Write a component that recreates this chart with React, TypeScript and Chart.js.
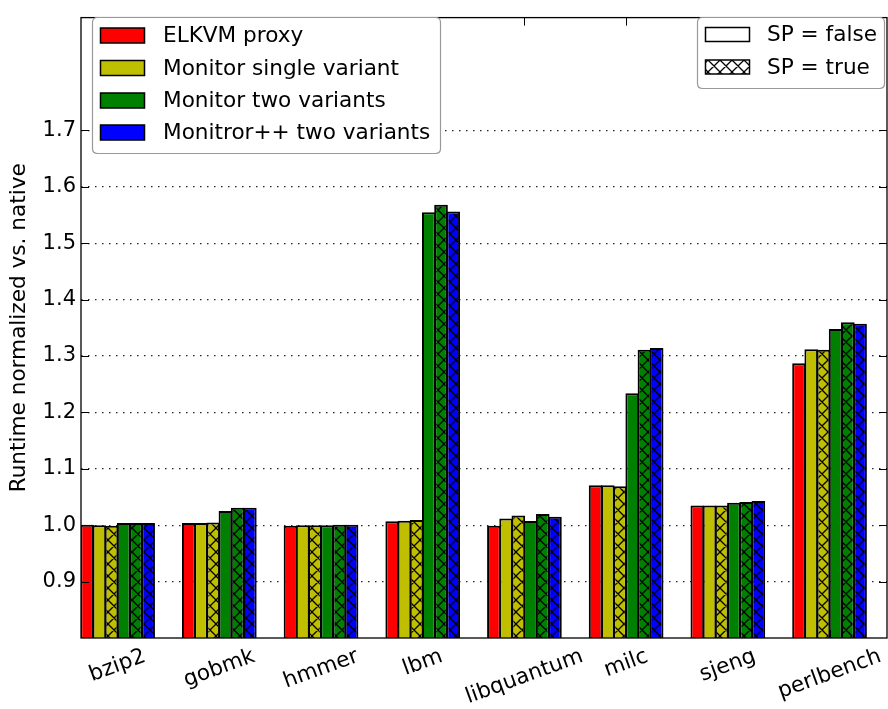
import React, { useEffect, useRef } from 'react';
import { Chart, registerables } from 'chart.js';

Chart.register(...registerables);

// ---------- data ----------
const categories = ['bzip2', 'gobmk', 'hmmer', 'lbm', 'libquantum', 'milc', 'sjeng', 'perlbench'];
const elkvmProxy = [1.001, 1.004, 0.999, 1.007, 0.999, 1.071, 1.035, 1.287];
const monitorSingle = [1.0, 1.004, 1.0, 1.008, 1.012, 1.071, 1.035, 1.312];
const monitorSingleSP = [0.999, 1.005, 1.0, 1.009, 1.017, 1.069, 1.035, 1.311];
const monitorTwo = [1.004, 1.025, 1.0, 1.555, 1.0075, 1.234, 1.04, 1.348];
const monitorTwoSP = [1.004, 1.031, 1.001, 1.568, 1.02, 1.311, 1.041, 1.36];
const monitorPPTwoSP = [1.004, 1.031, 1.001, 1.556, 1.015, 1.314, 1.043, 1.357];

const seriesNames = ['ELKVM proxy', 'Monitor single variant', 'Monitor two variants', 'Monitror++ two variants'];
const seriesColors = ['#ff0000', '#bfbf00', '#008000', '#0000ff'];
const spLabels = ['SP = false', 'SP = true'];
const yTickLabels = ['0.9', '1.0', '1.1', '1.2', '1.3', '1.4', '1.5', '1.6', '1.7'];
const yAxisTitle = 'Runtime normalized vs. native';

const FAMILY = '"DejaVu Sans", sans-serif';
const FS = 21;
const FS_LEG = 21.6;

function makeHatch(color: string): CanvasPattern | string {
  const s = 12;
  const c = document.createElement('canvas');
  c.width = s;
  c.height = s;
  const g = c.getContext('2d');
  if (!g) return color;
  g.fillStyle = color;
  g.fillRect(0, 0, s, s);
  g.strokeStyle = '#000';
  g.lineWidth = 1.3;
  g.beginPath();
  for (const o of [-s, 0, s]) {
    g.moveTo(o - 1, -1);
    g.lineTo(o + s + 1, s + 1);
    g.moveTo(o - 1, s + 1);
    g.lineTo(o + s + 1, -1);
  }
  g.stroke();
  return g.createPattern(c, 'repeat') || color;
}

const toPts = (arr: number[]) => arr.map((v, i) => ({ x: i, y: v }));

const decorPlugin = {
  id: 'decor',
  afterDraw(chart: any) {
    const { ctx, chartArea } = chart;
    const xs = chart.scales.x;
    const ys = chart.scales.y;
    const { left, right, top, bottom } = chartArea;
    ctx.save();
    // frame
    ctx.strokeStyle = '#000';
    ctx.lineWidth = 1.3;
    ctx.strokeRect(left, top, right - left, bottom - top);
    // ticks
    ctx.lineWidth = 1;
    ctx.beginPath();
    yTickLabels.forEach((t) => {
      const y = Math.round(ys.getPixelForValue(parseFloat(t))) + 0.5;
      ctx.moveTo(left, y);
      ctx.lineTo(left + 8, y);
      ctx.moveTo(right, y);
      ctx.lineTo(right - 8, y);
    });
    categories.forEach((_, i) => {
      const x = Math.round(xs.getPixelForValue(i)) + 0.5;
      ctx.moveTo(x, top);
      ctx.lineTo(x, top + 8);
      ctx.moveTo(x, bottom);
      ctx.lineTo(x, bottom - 8);
    });
    ctx.stroke();

    // x labels (rotated, centered)
    ctx.font = `${FS_LEG}px ${FAMILY}`;
    ctx.fillStyle = '#000';
    ctx.textAlign = 'center';
    ctx.textBaseline = 'middle';
    const ang = (20 * Math.PI) / 180;
    categories.forEach((lab, i) => {
      const x = xs.getPixelForValue(i);
      const w = ctx.measureText(lab).width;
      const cy = bottom + 8 + (w * Math.sin(ang) + FS * Math.cos(ang)) / 2;
      ctx.save();
      ctx.translate(x, cy);
      ctx.rotate(-ang);
      ctx.fillText(lab, 0, 0);
      ctx.restore();
    });

    // legend boxes
    const roundRect = (x: number, y: number, w: number, h: number, r: number) => {
      ctx.beginPath();
      ctx.moveTo(x + r, y);
      ctx.lineTo(x + w - r, y);
      ctx.quadraticCurveTo(x + w, y, x + w, y + r);
      ctx.lineTo(x + w, y + h - r);
      ctx.quadraticCurveTo(x + w, y + h, x + w - r, y + h);
      ctx.lineTo(x + r, y + h);
      ctx.quadraticCurveTo(x, y + h, x, y + h - r);
      ctx.lineTo(x, y + r);
      ctx.quadraticCurveTo(x, y, x + r, y);
      ctx.closePath();
    };
    ctx.textAlign = 'left';
    // left legend
    roundRect(92.5, 17.5, 348, 136, 5);
    ctx.fillStyle = '#fff';
    ctx.fill();
    ctx.strokeStyle = '#999';
    ctx.lineWidth = 1.2;
    ctx.stroke();
    const rowsL = [35.5, 68, 100.5, 132.5];
    seriesNames.forEach((name, i) => {
      const cy = rowsL[i];
      ctx.fillStyle = seriesColors[i];
      ctx.fillRect(100.5, cy - 7.5, 44, 15);
      ctx.strokeStyle = '#000';
      ctx.lineWidth = 1.5;
      ctx.strokeRect(100.5, cy - 7.5, 44, 15);
      ctx.fillStyle = '#000';
      ctx.fillText(name, 163, cy + 1);
    });
    // right legend
    roundRect(697.5, 17.5, 187, 71, 5);
    ctx.fillStyle = '#fff';
    ctx.fill();
    ctx.strokeStyle = '#999';
    ctx.lineWidth = 1.2;
    ctx.stroke();
    const rowsR = [34.5, 67];
    const spFills = ['#ffffff', makeHatch('#ffffff')];
    spLabels.forEach((name, i) => {
      const cy = rowsR[i];
      ctx.fillStyle = spFills[i] as any;
      ctx.fillRect(705.5, cy - 7, 44, 14);
      ctx.strokeStyle = '#000';
      ctx.lineWidth = 1.5;
      ctx.strokeRect(705.5, cy - 7, 44, 14);
      ctx.fillStyle = '#000';
      ctx.fillText(name, 767, cy + 1);
    });
    ctx.restore();
  },
};

export default function App() {
  const ref = useRef<HTMLCanvasElement>(null);

  useEffect(() => {
    if (!ref.current) return;
    const common = {
      borderColor: '#000',
      borderWidth: 2,
      borderSkipped: false,
      categoryPercentage: 0.72,
      barPercentage: 1.12,
    };
    const datasets: any[] = [
      { label: seriesNames[0], data: toPts(elkvmProxy), backgroundColor: seriesColors[0], ...common },
      { label: seriesNames[1], data: toPts(monitorSingle), backgroundColor: seriesColors[1], ...common },
      { label: seriesNames[1] + ' (SP)', data: toPts(monitorSingleSP), backgroundColor: makeHatch(seriesColors[1]), ...common },
      { label: seriesNames[2], data: toPts(monitorTwo), backgroundColor: seriesColors[2], ...common },
      { label: seriesNames[2] + ' (SP)', data: toPts(monitorTwoSP), backgroundColor: makeHatch(seriesColors[2]), ...common },
      { label: seriesNames[3] + ' (SP)', data: toPts(monitorPPTwoSP), backgroundColor: makeHatch(seriesColors[3]), ...common },
    ];

    const chart = new Chart(ref.current, {
      type: 'bar',
      data: { datasets },
      options: {
        responsive: false,
        animation: false,
        devicePixelRatio: 1,
        layout: { padding: { top: 6, left: 0, right: 1, bottom: 0 } },
        plugins: {
          legend: { display: false },
          tooltip: { enabled: false },
        },
        scales: {
          x: {
            type: 'linear',
            offset: false,
            min: -0.36,
            max: 7.565,
            ticks: { display: false, stepSize: 1, includeBounds: false },
            grid: { display: false, offset: false },
            border: { display: false },
            afterFit: (s: any) => {
              s.height = 71;
            },
          },
          y: {
            type: 'linear',
            min: 0.8,
            max: 1.9,
            ticks: {
              stepSize: 0.1,
              padding: 5,
              color: '#000',
              font: { family: FAMILY, size: FS },
              callback: (v: any) => {
                const s = (Math.round(Number(v) * 10) / 10).toFixed(1);
                return yTickLabels.includes(s) ? s : '';
              },
            },
            grid: {
              drawTicks: false,
              lineWidth: 1.2,
              color: (c: any) => {
                const s = (Math.round(Number(c.tick?.value) * 10) / 10).toFixed(1);
                return yTickLabels.includes(s) ? 'rgba(0,0,0,0.85)' : 'rgba(0,0,0,0)';
              },
            },
            border: { display: false, dash: [1.5, 5.5] },
            title: {
              display: true,
              text: yAxisTitle,
              color: '#000',
              font: { family: FAMILY, size: FS_LEG },
              padding: { top: 6, bottom: 0 },
            },
            afterFit: (s: any) => {
              s.width = 81;
            },
          },
        },
      } as any,
      plugins: [decorPlugin],
    });
    return () => chart.destroy();
  }, []);

  return (
    <div style={{ position: 'absolute', left: 0, top: 0, width: 888, height: 709, background: '#fff' }}>
      <canvas ref={ref} width={888} height={709} style={{ display: 'block' }} />
    </div>
  );
}
